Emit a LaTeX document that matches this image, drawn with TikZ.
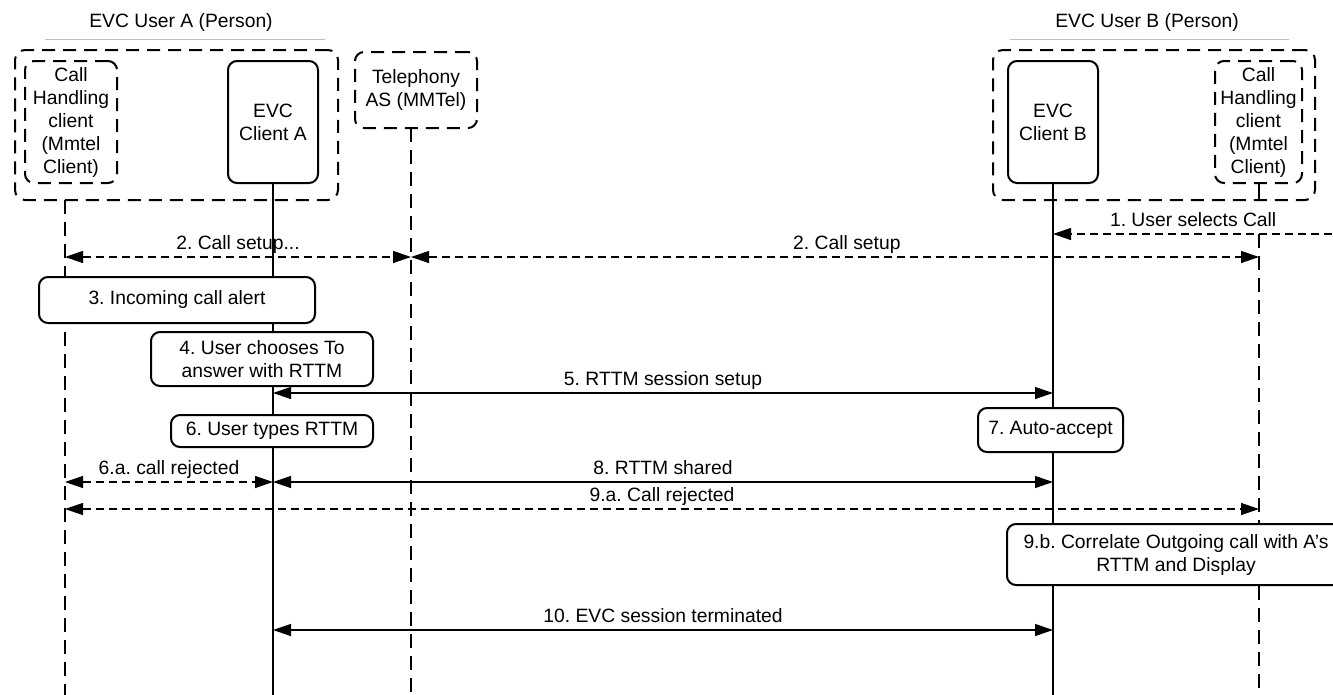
\documentclass[tikz,border=0pt]{standalone}
\usepackage{fontspec}
\setmainfont{Liberation Sans}
\usetikzlibrary{arrows.meta}

\begin{document}
\frenchspacing
\begin{tikzpicture}[x=1pt,y=-1pt,
  >={Triangle[length=18pt,width=12pt]},
  every node/.style={font=\fontsize{19.3}{23}\selectfont, inner sep=0pt},
  rule/.style={draw=gray!50, line width=1pt},
  grp/.style={draw, line width=2pt, dash pattern=on 13pt off 8pt, rounded corners=10pt},
  dpart/.style={draw, line width=2pt, dash pattern=on 13pt off 8pt, rounded corners=9pt, align=center, fill=white},
  spart/.style={draw, line width=2pt, rounded corners=9pt, align=center, fill=white},
  act/.style={draw, line width=2pt, rounded corners=9pt, align=center, fill=white},
  life/.style={line width=2pt},
  dlife/.style={line width=2pt, dash pattern=on 14pt off 8pt},
  msg/.style={line width=1.3pt, <->},
  dmsg/.style={msg, dash pattern=on 8pt off 5pt},
  lbl/.style={text height=13.5pt, text depth=4pt, yshift=12.5pt, midway}
]
\clip (0,0) rectangle (1333,694);

% user titles
\node (ttlA) at (181,23) {EVC User A (Person)};
\node (ttlB) at (1147,23) {EVC User B (Person)};
\draw[rule] (45,39) -- (325,39);
\draw[rule] (1010,39) -- (1289,39);

% user groups
\node[grp, minimum width=323pt, minimum height=150pt] (grpA) at (176.5,125) {};
\node[grp, minimum width=322pt, minimum height=150pt] (grpB) at (1154,125) {};

% lifeline ends
\coordinate (hA) at (65,200);   \coordinate (fA) at (65,700);
\coordinate (hT) at (411,128);  \coordinate (fT) at (411,700);
\coordinate (hB) at (1259,183); \coordinate (fB) at (1259,700);
\coordinate (fEA) at (273,700);
\coordinate (fEB) at (1053,700);

% participants
\node[dpart, minimum width=92pt, minimum height=122pt] (chA) at (71,122)
  {Call\\Handling\\client\\(Mmtel\\Client)};
\node[spart, minimum width=90pt, minimum height=122pt] (evcA) at (273,122)
  {EVC\\Client A};
\node[dpart, minimum width=122pt, minimum height=76pt] (tas) at (416,90)
  {Telephony\\AS (MMTel)};
\node[spart, minimum width=90pt, minimum height=122pt] (evcB) at (1053,122)
  {EVC\\Client B};
\node[dpart, minimum width=87pt, minimum height=122pt] (chB) at (1258.5,122)
  {Call\\Handling\\client\\(Mmtel\\Client)};

% lifelines
\draw[dlife] (hA) -- (fA);
\draw[life] (evcA.south) -- (fEA);
\draw[dlife] (hT) -- (fT);
\draw[life] (evcB.south) -- (fEB);
\draw[line width=2pt] (hB) -- (hB |- 0,201);
\draw[dlife] (hB |- 0,234) -- (fB);

% messages
\coordinate (src1) at (1345,234);
\draw[line width=1.3pt, dash pattern=on 8pt off 5pt, ->] (src1) -- (evcB |- src1)
  node[lbl, pos=0.52] {1. User selects Call};
\draw[dmsg] (hA |- 0,257) -- (hT |- 0,257) node[lbl] {2. Call setup...};
\draw[dmsg] (hT |- 0,257) -- (hB |- 0,257) node[lbl, pos=0.514] {2. Call setup};
\draw[msg] (evcA |- 0,393) -- (evcB |- 0,393) node[lbl] {5. RTTM session setup};
\draw[dmsg] (hA |- 0,482) -- (evcA |- 0,482) node[lbl] {6.a. call rejected};
\draw[msg] (evcA |- 0,482) -- (evcB |- 0,482) node[lbl] {8. RTTM shared};
\draw[dmsg] (hA |- 0,509) -- (hB |- 0,509) node[lbl] {9.a. Call rejected};
\draw[msg] (evcA |- 0,630) -- (evcB |- 0,630) node[lbl] {10. EVC session terminated};

% actions
\node[act, minimum width=276pt, minimum height=46pt] (s3) at (177,300)
  {3. Incoming call alert};
\node[act, minimum width=222pt, minimum height=54pt] (s4) at (262,359)
  {4. User chooses To\\answer with RTTM};
\node[act, minimum width=202pt, minimum height=32pt] (s6) at (272,431)
  {6. User types RTTM};
\node[act, minimum width=145pt, minimum height=44pt] (s7) at (1050.5,430)
  {7. Auto-accept};
\node[act, minimum width=338pt, minimum height=61pt] (s9b) at (1176,554.5)
  {9.b. Correlate Outgoing call with A’s\\RTTM and Display};
\end{tikzpicture}
\end{document}
